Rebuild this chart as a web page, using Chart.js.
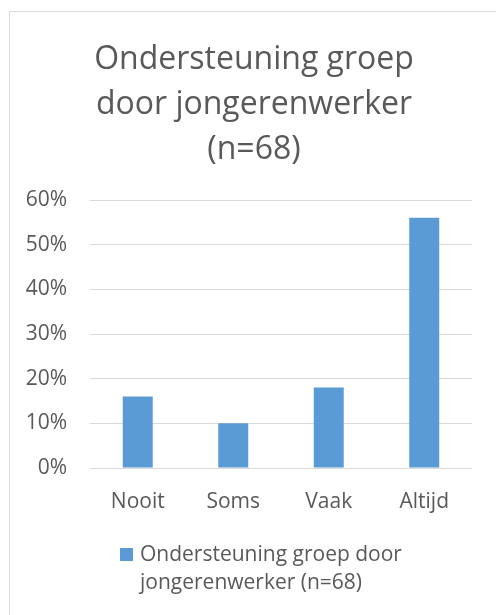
<!DOCTYPE html>
<html>
<head>
<meta charset="utf-8">
<script src="https://cdn.jsdelivr.net/npm/chart.js@4.4.1/dist/chart.umd.min.js"></script>
<style>
  html, body { margin: 0; padding: 0; background: #fff; }
  #wrap { width: 496px; height: 615px; position: relative; }
</style>
</head>
<body>
<div id="wrap"><canvas id="steunChart" width="496" height="615"></canvas></div>
<script>
const categories = ['Nooit', 'Soms', 'Vaak', 'Altijd'];
const percentages = [16, 10, 18, 56];
const seriesLabel = 'Ondersteuning groep door jongerenwerker (n=68)';
const legendLines = ['Ondersteuning groep door', 'jongerenwerker (n=68)'];
const titleLines = ['Ondersteuning groep', 'door jongerenwerker', '(n=68)'];
const yTicks = [0, 10, 20, 30, 40, 50, 60];

const textGrey = '#595959';
const barBlue = '#5b9bd5';
const lineGrey = '#d9d9d9';
const fontName = "'Open Sans', sans-serif";

// Excel-achtige rand en legenda (tekst loopt over twee regels)
const frameAndLegend = {
  id: 'frameAndLegend',
  afterDraw(chart) {
    const ctx = chart.ctx;
    ctx.save();
    ctx.strokeStyle = lineGrey;
    ctx.lineWidth = 1;
    ctx.beginPath();
    ctx.moveTo(9.5, chart.height);
    ctx.lineTo(9.5, 11.5);
    ctx.lineTo(chart.width, 11.5);
    ctx.stroke();

    const ds = chart.data.datasets[0];
    const left = 120, top = 548;
    ctx.fillStyle = ds.backgroundColor;
    ctx.fillRect(left, top, 13, 13);
    ctx.fillStyle = textGrey;
    ctx.font = '21px ' + fontName;
    ctx.textBaseline = 'alphabetic';
    ctx.textAlign = 'left';
    legendLines.forEach((line, i) => {
      ctx.fillText(line, left + 20, 561 + i * 28);
    });
    ctx.restore();
  }
};

const ctxSteun = document.getElementById('steunChart').getContext('2d');
const steunChart = new Chart(ctxSteun, {
  type: 'bar',
  data: {
    labels: categories,
    datasets: [{
      label: seriesLabel,
      data: percentages,
      backgroundColor: barBlue,
      borderWidth: 0,
      categoryPercentage: 1,
      barPercentage: 0.314
    }]
  },
  options: {
    responsive: false,
    animation: false,
    layout: {
      padding: { left: 12, right: 0, top: 0, bottom: 0 }
    },
    scales: {
      y: {
        min: 0,
        max: 60,
        afterFit(scale) { scale.width = 78; },
        afterBuildTicks(scale) { scale.ticks = yTicks.map(v => ({ value: v })); },
        border: { display: false },
        grid: { color: lineGrey, lineWidth: 1, drawTicks: false },
        ticks: {
          padding: 23,
          color: textGrey,
          font: { family: fontName, size: 21 },
          callback: v => v + '%'
        }
      },
      // lege ruimte rechts van het plotgebied
      rechts: {
        position: 'right',
        afterFit(scale) { scale.width = 24; },
        border: { display: false },
        grid: { display: false, drawTicks: false },
        ticks: { display: false }
      },
      x: {
        afterFit(scale) { scale.height = 147; },
        border: { display: false },
        grid: { display: false },
        ticks: {
          padding: 13,
          color: textGrey,
          font: { family: fontName, size: 21 }
        }
      }
    },
    plugins: {
      legend: { display: false },
      tooltip: { enabled: false },
      title: {
        display: true,
        text: titleLines,
        color: textGrey,
        font: { family: fontName, size: 32, weight: 'normal', lineHeight: 45 / 32 },
        padding: { top: 37.5, bottom: 27.5 }
      }
    }
  },
  plugins: [frameAndLegend]
});
</script>
</body>
</html>
